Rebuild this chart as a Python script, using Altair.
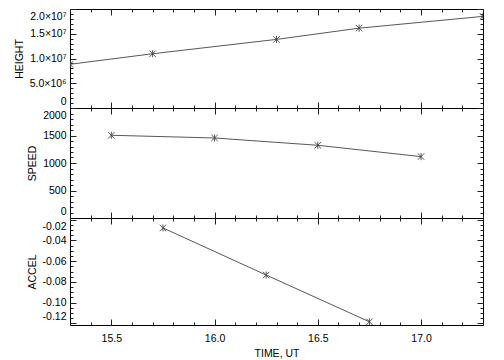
import altair as alt
import pandas as pd

# ---- data ----
height_time = [15.3, 15.7, 16.3, 16.7, 17.3]
height_vals = [8.83e6, 1.096e7, 1.386e7, 1.613e7, 1.851e7]
speed_time = [15.5, 16.0, 16.5, 17.0]
speed_vals = [1504, 1455, 1322, 1116]
accel_time = [15.75, 16.25, 16.75]
accel_vals = [-0.0279, -0.0734, -0.1186]

x_domain = [15.3, 17.3]
x_major = [15.5, 16.0, 16.5, 17.0]
x_minor = [round(15.3 + 0.1 * i, 2) for i in range(21)]

h_domain = [0, 2e7]
h_major = [0, 5e6, 1e7, 1.5e7, 2e7]
h_minor = [1e6 * i for i in range(21)]

s_domain = [0, 2000]
s_major = [0, 500, 1000, 1500, 2000]
s_minor = [100 * i for i in range(21)]

a_domain = [-0.1217, -0.0183]
a_major = [-0.12, -0.10, -0.08, -0.06, -0.04, -0.02]
a_minor = [round(-0.12 + 0.005 * i, 4) for i in range(21)]

W = 413
FONT = "Liberation Sans"
FS = 10.5
INK = "#222222"
LINE = "#444444"
ASTER = "M-1,-1L1,1M-1,1L1,-1M0,-1.1L0,1.1"
MAJ, MIN = 6, 3


def tick_ax(orient, values, size, offset):
    return alt.Axis(orient=orient, values=values, tickSize=size, offset=offset,
                    labels=False, domain=False, title=None, grid=False,
                    ticks=True, tickColor=INK, tickWidth=1, minExtent=0)


def panel(times, vals, ydom, ymaj, ymin, title, label_expr, H, bottom):
    df = pd.DataFrame({"t": times, "v": vals})
    xs = alt.Scale(domain=x_domain, nice=False, zero=False)
    ys = alt.Scale(domain=ydom, nice=False, zero=False)

    if bottom:
        xax = alt.Axis(orient="bottom", values=x_major, format=".1f", ticks=False,
                       tickSize=0, domain=False, grid=False, title="TIME, UT",
                       labelPadding=8, titlePadding=5, labelFlush=False)
    else:
        xax = None
    yax = alt.Axis(orient="left", values=ymaj, ticks=False, tickSize=0, domain=False,
                   grid=False, title=title, labelExpr=label_expr, labelFlush=4,
                   labelFlushOffset=-2, labelPadding=4, titlePadding=5, minExtent=0)

    line = alt.Chart(df).mark_line(clip=True, color=LINE, strokeWidth=0.9).encode(
        x=alt.X("t:Q", scale=xs, axis=xax),
        y=alt.Y("v:Q", scale=ys, axis=yax),
    )
    pts = alt.Chart(df).mark_point(clip=True, shape=ASTER, size=42, filled=False,
                                   color=LINE, strokeWidth=0.9, opacity=1).encode(
        x=alt.X("t:Q", scale=xs, axis=tick_ax("top", x_major, MAJ, -H)),
        y=alt.Y("v:Q", scale=ys, axis=tick_ax("right", ymaj, MAJ, -W)),
    )
    l3 = alt.Chart(df).mark_point(opacity=0).encode(
        x=alt.X("t:Q", scale=xs, axis=tick_ax("bottom", x_major, MAJ, -H)),
        y=alt.Y("v:Q", scale=ys, axis=tick_ax("left", ymaj, MAJ, -W)),
    )
    l4 = alt.Chart(df).mark_point(opacity=0).encode(
        x=alt.X("t:Q", scale=xs, axis=tick_ax("top", x_minor, MIN, -H)),
        y=alt.Y("v:Q", scale=ys, axis=tick_ax("right", ymin, MIN, -W)),
    )
    l5 = alt.Chart(df).mark_point(opacity=0).encode(
        x=alt.X("t:Q", scale=xs, axis=tick_ax("bottom", x_minor, MIN, -H)),
        y=alt.Y("v:Q", scale=ys, axis=tick_ax("left", ymin, MIN, -W)),
    )
    return alt.layer(line, pts, l3, l4, l5).resolve_axis(
        x="independent", y="independent").properties(width=W, height=H)


h_expr = ("datum.value == 0 ? '0' : (datum.value < 1e7 ? format(datum.value/1e6, '.1f') + '×10⁶'"
          " : format(datum.value/1e7, '.1f') + '×10⁷')")
s_expr = "format(datum.value, 'd')"
a_expr = "replace(format(datum.value, '.2f'), '\u2212', '-')"

top = panel(height_time, height_vals, h_domain, h_major, h_minor, "HEIGHT", h_expr, 99, False)
mid = panel(speed_time, speed_vals, s_domain, s_major, s_minor, "SPEED", s_expr, 110, False)
bot = panel(accel_time, accel_vals, a_domain, a_major, a_minor, "ACCEL", a_expr, 107, True)

chart = alt.vconcat(top, mid, bot, spacing=0, bounds="flush").configure_view(
    stroke="black", strokeWidth=1
).configure_axis(
    labelFont=FONT, titleFont=FONT, labelFontSize=FS, titleFontSize=FS,
    labelColor="black", titleColor="black", titleFontWeight="normal"
).properties(padding={"left": 5, "top": 0, "right": 2, "bottom": 0})

chart.save("out.html", embed_options={"renderer": "svg", "actions": False})
